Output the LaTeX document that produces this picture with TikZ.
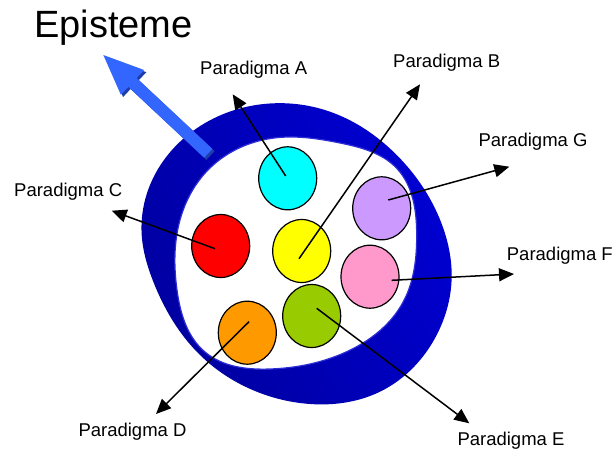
\documentclass[tikz,border=0pt]{standalone}
\usepackage{fontspec}
\setmainfont{Liberation Sans}
\usetikzlibrary{arrows.meta,shapes.geometric,hobby}
\definecolor{ringdark}{RGB}{0,0,160}
\definecolor{ringlight}{RGB}{0,0,210}
\definecolor{ringrim}{RGB}{45,45,215}
\definecolor{epilight}{RGB}{51,102,255}
\definecolor{epidark}{RGB}{30,60,170}
\definecolor{pcyan}{RGB}{0,255,255}
\definecolor{pred}{RGB}{255,0,0}
\definecolor{pyellow}{RGB}{255,255,0}
\definecolor{plilac}{RGB}{204,153,255}
\definecolor{ppink}{RGB}{255,153,204}
\definecolor{pgreen}{RGB}{153,204,0}
\definecolor{porange}{RGB}{255,153,0}
\tikzset{
  para/.style={ellipse,draw=black,line width=1.2pt,minimum width=58pt,minimum height=63pt,inner sep=0pt},
  lbl/.style={anchor=base west,inner sep=0pt,font=\fontsize{18.5}{22}\selectfont},
  ptr/.style={line width=1.5pt,-{Triangle[length=15pt,width=13pt]}}
}
\begin{document}
\begin{tikzpicture}[x=1pt,y=-1pt]
\useasboundingbox (0,0) rectangle (613,450);
% ring
\shade[left color=ringdark,right color=ringlight,shading angle=120]
  plot[closed hobby] coordinates {(273.3,103.3) (330,111.7) (396.7,155) (443.3,228.3) (451.7,275) (436.7,335) (380,391.7) (310,404) (256.7,391.7) (200,355) (153.3,281.7) (141.7,235) (150,185) (196.7,128.3)};
\filldraw[fill=white,draw=ringrim,line width=1.2pt]
  plot[closed hobby] coordinates {(276.7,137.7) (340,143) (396.7,168.3) (416.7,235) (403.3,301.7) (346.7,351.7) (270,369) (205,352) (177,290) (180,220) (210,168)};
% episteme arrow
\fill[epidark,shift={(2.2,2.2)}] (103.3,55) -- (144.1,70.0) -- (136.6,78.0) -- (212.4,148.9) -- (204.2,157.7) -- (128.4,86.8) -- (120.9,94.8) -- cycle;
\fill[epilight] (103.3,55) -- (144.1,70.0) -- (136.6,78.0) -- (212.4,148.9) -- (204.2,157.7) -- (128.4,86.8) -- (120.9,94.8) -- cycle;
% paradigm circles
\node[para,fill=pcyan] (cA) at (287.7,178.3) {};
\node[para,fill=pred] (cC) at (220.7,246) {};
\node[para,fill=pyellow] (cB) at (301.7,251) {};
\node[para,fill=plilac] (cG) at (381.7,208.3) {};
\node[para,fill=ppink] (cF) at (370,276.7) {};
\node[para,fill=pgreen] (cE) at (311.7,316) {};
\node[para,fill=porange] (cD) at (247.3,332.7) {};
% arrow start points
\coordinate (sA) at (285.7,176);
\coordinate (sB) at (299,258.7);
\coordinate (sG) at (388.3,200);
\coordinate (sC) at (215,248.7);
\coordinate (sF) at (391.7,280.3);
\coordinate (sD) at (249,321.7);
\coordinate (sE) at (316.7,308.3);
% arrow tips
\coordinate (tA) at (232.7,94.3);
\coordinate (tB) at (420,84.3);
\coordinate (tG) at (509.3,166.7);
\coordinate (tC) at (111.7,210.7);
\coordinate (tF) at (514,274);
\coordinate (tD) at (156,414);
\coordinate (tE) at (469.3,423.3);
\draw[ptr] (sA) -- (tA);
\draw[ptr] (sB) -- (tB);
\draw[ptr] (sG) -- (tG);
\draw[ptr] (sC) -- (tC);
\draw[ptr] (sF) -- (tF);
\draw[ptr] (sD) -- (tD);
\draw[ptr] (sE) -- (tE);
% labels
\node[anchor=base west,inner sep=0pt,font=\fontsize{38}{44}\selectfont] (epi) at (34,37) {Episteme};
\node[lbl] (lA) at (200,74) {Paradigma A};
\node[lbl] (lB) at (393,67.3) {Paradigma B};
\node[lbl] (lG) at (478.3,146.7) {Paradigma G};
\node[lbl] (lC) at (14,196.7) {Paradigma C};
\node[lbl] (lF) at (506.7,260) {Paradigma F};
\node[lbl] (lD) at (78.3,436.7) {Paradigma D};
\node[lbl] (lE) at (457.3,445) {Paradigma E};
\end{tikzpicture}
\end{document}
